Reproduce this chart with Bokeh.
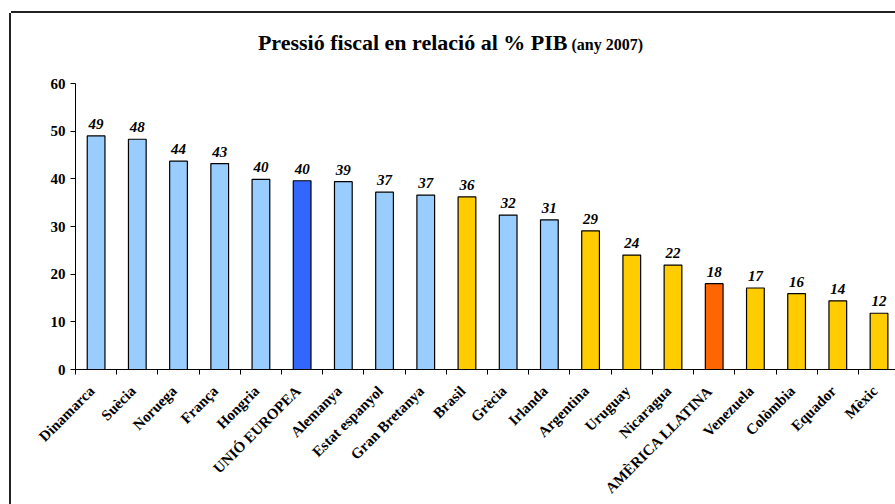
import math
from bokeh.plotting import figure
from bokeh.models import Range1d, FixedTicker, LinearAxis, ColumnDataSource, Title
from bokeh.core.properties import value
from bokeh.embed import file_html
from bokeh.resources import INLINE

# ---- data ----
countries = ["Dinamarca", "Suècia", "Noruega", "França", "Hongria", "UNIÓ EUROPEA",
             "Alemanya", "Estat espanyol", "Gran Bretanya", "Brasil", "Grècia", "Irlanda",
             "Argentina", "Uruguay", "Nicaragua", "AMÈRICA LLATINA", "Venezuela",
             "Colòmbia", "Equador", "Mèxic"]
pressio = [49.0, 48.3, 43.7, 43.2, 39.9, 39.6, 39.4, 37.2, 36.6, 36.2, 32.4, 31.4,
           29.1, 24.0, 21.9, 18.0, 17.1, 15.9, 14.4, 11.8]
grups = ["europa", "europa", "europa", "europa", "europa", "ue", "europa", "europa",
         "europa", "amlat", "europa", "europa", "amlat", "amlat", "amlat", "al",
         "amlat", "amlat", "amlat", "amlat"]
y_ticks = [0, 10, 20, 30, 40, 50, 60]
title_main = "Pressió fiscal en relació al % PIB"
title_sub = "(any 2007)"

colors = {"europa": "#99CCFF", "ue": "#3366FF", "amlat": "#FFCC00", "al": "#FF6600"}
FONT = "Liberation Serif"

n = len(countries)
centers = [i + 0.5 for i in range(n)]
bounds = [float(i) for i in range(n)]
label_pos = [c - 0.1 for c in centers]   # rotated labels sit slightly left of bar centres

src = ColumnDataSource(dict(
    x=centers,
    top=pressio,
    color=[colors[g] for g in grups],
    lab=[f"{v:.0f}" for v in pressio],
))

p = figure(width=884, height=491, output_backend="svg", toolbar_location=None,
           x_range=Range1d(0, 19.9), y_range=Range1d(0, 60),
           min_border_left=64, min_border_right=0, min_border_top=70,
           min_border_bottom=133, x_axis_type=None, y_axis_type=None)
p.margin = (13, 0, 0, 11)
p.styles = {"box-shadow": "-2px 0px 0px 0px #222222, 0px -2px 0px 0px #222222"}
p.outline_line_color = None
p.background_fill_color = "white"
p.border_fill_color = "white"
p.title.text = ""

# title rows, stacked outward from the plot area
p.add_layout(Title(text=" ", standoff=11.6, text_font=FONT,
                   text_font_size="16px"), "above")
p.add_layout(Title(text=title_sub, align="left", offset=496, standoff=0,
                   vertical_align="bottom", text_font=FONT, text_font_style="bold",
                   text_font_size="16px", text_color="black"), "above")
p.add_layout(Title(text=title_main, align="right", offset=328, standoff=-43.6,
                   vertical_align="bottom", text_font=FONT, text_font_style="bold",
                   text_font_size="22px", text_color="black"), "above")

# y axis
yax = LinearAxis(ticker=FixedTicker(ticks=y_ticks, minor_ticks=[]))
yax.axis_line_color = "black"
yax.axis_line_width = 1
yax.major_tick_out = 5
yax.major_tick_in = 0
yax.major_tick_line_color = "black"
yax.minor_tick_out = 0
yax.major_label_standoff = 5
yax.major_label_text_font = FONT
yax.major_label_text_font_style = "bold"
yax.major_label_text_font_size = "15px"
yax.major_label_text_color = "black"
p.add_layout(yax, "left")

# x axis: labels on (invisible) major ticks, visible tick marks between categories
xax = LinearAxis(ticker=FixedTicker(ticks=label_pos, minor_ticks=bounds))
xax.major_label_overrides = {c: name for c, name in zip(label_pos, countries)}
xax.axis_line_color = "black"
xax.axis_line_width = 1
xax.major_tick_out = 0
xax.major_tick_in = 0
xax.minor_tick_out = 5
xax.minor_tick_in = 0
xax.minor_tick_line_color = "black"
xax.major_label_orientation = math.pi / 4
xax.major_label_standoff = 14
xax.major_label_text_font = FONT
xax.major_label_text_font_style = "bold"
xax.major_label_text_font_size = "15px"
xax.major_label_text_color = "black"
p.add_layout(xax, "below")

p.ygrid.ticker = FixedTicker(ticks=y_ticks)
p.ygrid.grid_line_color = "#404040"
p.ygrid.grid_line_width = 1
p.xgrid.visible = False

p.vbar(x="x", top="top", width=0.43, bottom=0, source=src, fill_color="color",
       line_color="black", line_width=1.2)

p.text(x="x", y="top", text="lab", source=src, y_offset=-12,
       text_align="center", text_baseline="alphabetic",
       text_font=value(FONT), text_font_style="bold italic",
       text_font_size="15px", text_color="black")

open("out.html", "w").write(file_html(p, INLINE))
